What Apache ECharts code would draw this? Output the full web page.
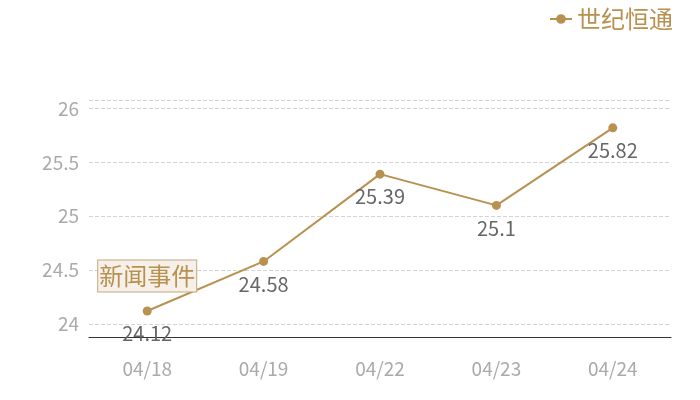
<!DOCTYPE html>
<html><head><meta charset="utf-8">
<script src="https://cdn.jsdelivr.net/npm/echarts@6/dist/echarts.min.js"></script>
<style>html,body{margin:0;padding:0;background:#fff}#c{width:700px;height:400px}</style>
</head><body><div id="c"></div>
<script>
var categories = ['04/18','04/19','04/22','04/23','04/24'];
var values = [24.12, 24.58, 25.39, 25.1, 25.82];
var seriesName = '世纪恒通';
var eventText = '新闻事件';
var chart = echarts.init(document.getElementById('c'));
var gold = '#b8914f';
chart.setOption({
  animation:false,
  textStyle:{fontFamily:'Noto Sans CJK SC'},
  legend:{right:22, top:2, itemWidth:22, itemHeight:12, itemGap:6, textStyle:{color:gold, fontSize:24, fontFamily:'Noto Sans CJK SC'}, data:[seriesName]},
  grid:{left:89, right:29, top:100, bottom:63},
  xAxis:{type:'category', data:categories, boundaryGap:true,
    axisLine:{lineStyle:{color:'#333'}}, axisTick:{show:false},
    axisLabel:{color:'#aaa', fontSize:19, margin:22}},
  yAxis:{type:'value', min:function(v){return v.min*0.99;}, max:function(v){return v.max*1.01;}, splitNumber:5,
    axisLine:{show:false}, axisTick:{show:false},
    axisLabel:{color:'#aaa', fontSize:19, margin:10, showMinLabel:false, showMaxLabel:false},
    splitLine:{lineStyle:{color:'#d4d4d4', type:'dashed'}}},
  series:[{name:seriesName, type:'line', data:values, symbol:'circle', symbolSize:9,
    itemStyle:{color:gold}, lineStyle:{color:gold, width:2},
    label:{show:true, position:'bottom', distance:8, color:'#666', fontSize:20},
    markPoint:{symbol:'rect', symbolSize:1, itemStyle:{color:'transparent'},
      data:[{coord:[categories[0], values[0]], value:eventText,
        label:{show:true, formatter:eventText, offset:[0,-35], color:gold, fontSize:24,
          backgroundColor:'#f5f0ea', borderColor:'#c9a77a', borderWidth:1, padding:[4,1,3,1]}}]}
  }]
});
</script></body></html>
